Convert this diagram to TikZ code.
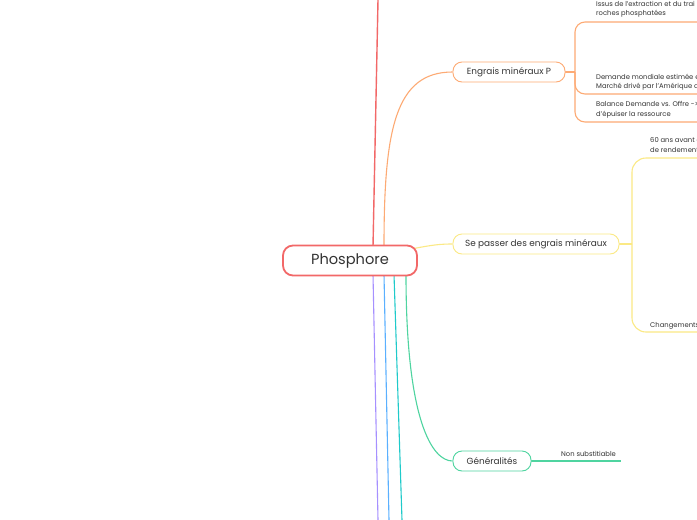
\documentclass[tikz,border=0pt]{standalone}
\usepackage{fontspec}
\setmainfont{Poppins}
\usetikzlibrary{calc}
\definecolor{cred}{HTML}{F26868}
\definecolor{corange}{HTML}{FDAA74}
\definecolor{cyellow}{HTML}{FBE985}
\definecolor{cgreen}{HTML}{4FD4A0}
\definecolor{ccyan}{HTML}{1FCACA}
\definecolor{cblue}{HTML}{5AB0FF}
\definecolor{cpurple}{HTML}{A690FF}
\definecolor{textc}{HTML}{333333}
\tikzset{
  mainbox/.style={draw=cred, line width=1.8pt, rounded corners=10pt, fill=white,
    minimum width=134pt, minimum height=30pt, inner sep=0pt,
    font=\fontsize{14.6}{16}\selectfont, text=textc},
  subbox/.style={line width=0.9pt, rounded corners=9pt, fill=white,
    minimum height=20pt, inner sep=0pt,
    font=\fontsize{8.9}{10}\selectfont, text=textc},
  leaf/.style={font=\fontsize{6.8}{9.4}\selectfont, align=left, inner sep=0pt,
    text depth=0pt, text=textc, anchor=south west},
  conn/.style={line width=1.1pt},
}
\begin{document}
\begin{tikzpicture}[x=1pt,y=-1pt]
\useasboundingbox (0,0) rectangle (697,520);
\fill[white] (0,0) rectangle (697,520);

% nodes (placed first to get anchors; drawn again on top below)
\node[mainbox, draw=none] (P) at (350,260.5) {\phantom{Phosphore}};
\node[subbox, minimum width=112pt] (E) at (509,72) {\phantom{Engrais minéraux P}};
\node[subbox, minimum width=166pt] (S) at (536,244) {\phantom{Se passer des engrais minéraux}};
\node[subbox, minimum width=78pt] (G) at (492,461) {\phantom{Généralités}};

\coordinate (rtop) at (378,0);
\coordinate (pbot) at (378,520);
\coordinate (bbot) at (389,520);
\coordinate (cbot) at (402,520);
\coordinate (ej) at (575,72);
\coordinate (o1) at (697,22);
\coordinate (o2) at (697,94);
\coordinate (o3) at (697,122);
\coordinate (yj) at (632,244);
\coordinate (y1) at (697,158);
\coordinate (y2) at (697,332);
\coordinate (gend) at (621,461);

% connectors from the central node
\draw[conn, cred, line width=1.4pt] ($(P.north)+(23,2)$) -- (rtop);
\draw[conn, corange] ($(P.north)+(34,2)$) .. controls (384,130) and (395,72) .. (E.west);
\draw[conn, cyellow] ($(P.east)+(-4,-12)$) .. controls (432,245) and (440,244) .. (S.west);
\draw[conn, cpurple] ($(P.south)+(23,-2)$) -- (pbot);
\draw[conn, cblue] ($(P.south)+(34,-2)$) -- (bbot);
\draw[conn, ccyan] ($(P.south)+(44,-2)$) -- (cbot);
\draw[conn, cgreen] ($(P.south)+(56,-2)$) .. controls (406,420) and (432,461) .. (G.west);

% orange branch
\draw[conn, corange] (E.east) -- (ej);
\draw[conn, corange, rounded corners=10pt] (ej) |- (o1);
\draw[conn, corange, rounded corners=10pt] (ej) |- (o2);
\draw[conn, corange, rounded corners=10pt] (ej) |- (o3);

% yellow branch
\draw[conn, cyellow] (S.east) -- (yj);
\draw[conn, cyellow, rounded corners=14pt] (yj) |- (y1);
\draw[conn, cyellow, rounded corners=14pt] (yj) |- (y2);

% green branch
\draw[conn, cgreen] (G.east) -- (gend);

% boxes on top
\node[mainbox] (P2) at (P) {Phosphore};
\node[subbox, draw=corange, minimum width=112pt] (E2) at (E) {Engrais minéraux P};
\node[subbox, draw=cyellow, minimum width=166pt] (S2) at (S) {Se passer des engrais minéraux};
\node[subbox, draw=cgreen, minimum width=78pt] (G2) at (G) {Généralités};

% leaf texts
\node[leaf] (t1) at (596,16) {Issus de l'extraction et du trai\\roches phosphatées};
\node[leaf] (t2) at (596,89) {Demande mondiale estimée e\\Marché drivé par l'Amérique d};
\node[leaf] (t3) at (596,116.5) {Balance Demande vs. Offre ->\\d'épuiser la ressource};
\node[leaf] (t4) at (650,152.5) {60 ans avant d\\de rendement};
\node[leaf] (t5) at (650,327.5) {Changements};
\node[leaf] (t6) at (561,456.5) {Non substitiable};
\end{tikzpicture}
\end{document}
